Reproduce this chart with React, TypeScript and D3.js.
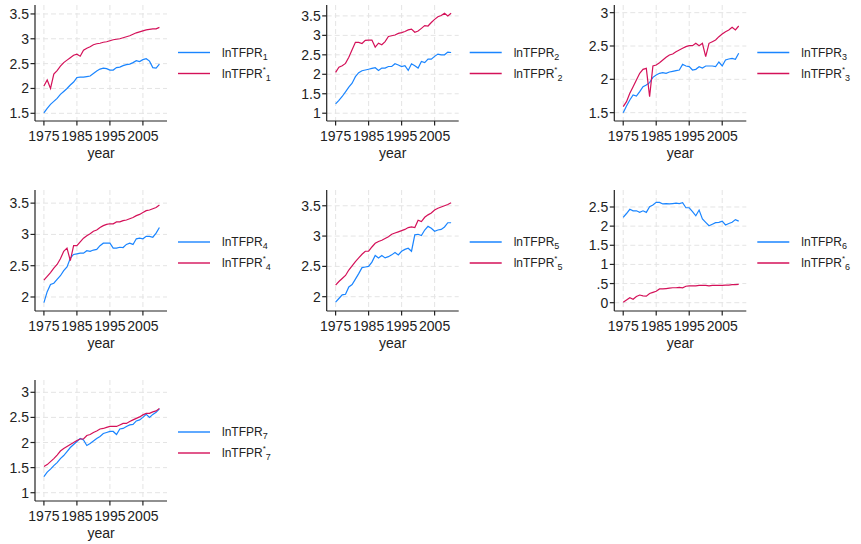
import React from "react";
import * as d3 from "d3";

const years: number[] = d3.range(1975, 2011);

const blue1 = [1.51,1.60,1.68,1.74,1.80,1.88,1.94,2.00,2.07,2.13,2.22,2.23,2.23,2.24,2.25,2.30,2.35,2.39,2.41,2.40,2.37,2.37,2.42,2.43,2.46,2.48,2.49,2.52,2.56,2.54,2.58,2.60,2.55,2.42,2.41,2.49];
const red1 = [2.05,2.17,2.00,2.29,2.36,2.45,2.52,2.57,2.62,2.67,2.69,2.65,2.77,2.81,2.84,2.88,2.90,2.91,2.93,2.94,2.96,2.98,2.99,3.00,3.02,3.04,3.06,3.09,3.12,3.14,3.16,3.18,3.19,3.20,3.20,3.23];

const blue2 = [1.24,1.33,1.43,1.55,1.67,1.77,1.94,2.04,2.09,2.11,2.13,2.15,2.17,2.10,2.16,2.16,2.20,2.20,2.27,2.24,2.20,2.22,2.10,2.27,2.22,2.16,2.33,2.30,2.39,2.39,2.46,2.52,2.50,2.50,2.57,2.56];
const red2 = [2.05,2.18,2.22,2.28,2.44,2.63,2.82,2.82,2.79,2.87,2.88,2.88,2.70,2.80,2.76,2.84,2.97,2.99,3.01,3.05,3.07,3.10,3.14,3.16,3.08,3.11,3.18,3.25,3.24,3.33,3.41,3.48,3.51,3.57,3.50,3.57];

const blue3 = [1.50,1.60,1.69,1.765,1.75,1.815,1.89,1.915,1.95,2.03,2.065,2.09,2.10,2.09,2.11,2.12,2.13,2.14,2.225,2.20,2.19,2.14,2.15,2.19,2.17,2.20,2.20,2.20,2.19,2.26,2.20,2.29,2.305,2.315,2.30,2.39];
const red3 = [1.59,1.665,1.79,1.89,1.99,2.09,2.15,2.165,1.74,2.20,2.215,2.25,2.29,2.33,2.365,2.38,2.415,2.44,2.465,2.49,2.505,2.505,2.54,2.505,2.54,2.34,2.54,2.565,2.59,2.64,2.68,2.715,2.74,2.78,2.74,2.80];

const blue4 = [1.91,2.085,2.20,2.22,2.28,2.34,2.42,2.48,2.62,2.68,2.69,2.70,2.70,2.74,2.73,2.75,2.76,2.82,2.86,2.86,2.86,2.78,2.78,2.795,2.79,2.84,2.86,2.84,2.93,2.94,2.93,2.97,2.97,2.955,3.02,3.11];
const red4 = [2.27,2.33,2.39,2.46,2.52,2.61,2.73,2.78,2.58,2.82,2.82,2.88,2.94,2.98,3.01,3.05,3.07,3.11,3.14,3.16,3.17,3.17,3.20,3.20,3.22,3.23,3.25,3.27,3.30,3.32,3.35,3.38,3.39,3.41,3.43,3.47];

const blue5 = [1.91,1.97,2.03,2.04,2.16,2.20,2.29,2.38,2.48,2.49,2.50,2.57,2.68,2.64,2.68,2.64,2.66,2.69,2.73,2.69,2.75,2.78,2.80,2.75,3.02,3.03,3.01,3.10,3.16,3.13,3.08,3.10,3.11,3.15,3.22,3.22];
const red5 = [2.19,2.25,2.30,2.35,2.44,2.51,2.58,2.64,2.70,2.75,2.75,2.82,2.88,2.91,2.93,2.96,2.99,3.03,3.05,3.07,3.09,3.11,3.14,3.15,3.14,3.26,3.24,3.31,3.35,3.38,3.43,3.46,3.48,3.50,3.52,3.55];

const blue6 = [2.23,2.33,2.44,2.40,2.40,2.36,2.40,2.36,2.51,2.55,2.62,2.62,2.58,2.59,2.58,2.59,2.60,2.59,2.61,2.48,2.48,2.38,2.27,2.42,2.19,2.10,2.01,2.05,2.09,2.10,2.13,2.03,2.07,2.10,2.17,2.13];
const red6 = [0.01,0.07,0.13,0.09,0.16,0.20,0.18,0.17,0.24,0.27,0.30,0.36,0.36,0.37,0.38,0.39,0.39,0.40,0.39,0.43,0.44,0.44,0.44,0.45,0.45,0.45,0.44,0.45,0.45,0.45,0.45,0.46,0.46,0.47,0.47,0.48];

const blue7 = [1.32,1.41,1.47,1.54,1.60,1.68,1.74,1.82,1.90,1.96,2.02,2.08,2.05,1.94,1.98,2.03,2.08,2.12,2.18,2.20,2.22,2.22,2.16,2.27,2.28,2.32,2.35,2.36,2.43,2.45,2.50,2.56,2.50,2.56,2.60,2.67];
const red7 = [1.52,1.56,1.62,1.68,1.75,1.83,1.88,1.92,1.96,2.00,2.04,2.07,2.07,2.14,2.16,2.20,2.23,2.27,2.28,2.30,2.32,2.32,2.32,2.35,2.38,2.38,2.42,2.45,2.48,2.51,2.55,2.58,2.58,2.61,2.63,2.68];

const xTicks = [1975, 1985, 1995, 2005];

const yTicks1 = [1.5, 2, 2.5, 3, 3.5];
const yTicks2 = [1, 1.5, 2, 2.5, 3, 3.5];
const yTicks3 = [1.5, 2, 2.5, 3];
const yTicks4 = [2, 2.5, 3, 3.5];
const yTicks5 = [2, 2.5, 3, 3.5];
const yTicks6 = [0, 0.5, 1, 1.5, 2, 2.5];
const yTicks7 = [1, 1.5, 2, 2.5, 3];

const BLUE = "#1a85ff";
const RED = "#d41159";

const colX = [35, 326.7, 614.3];
const rowTop = [5, 190, 380];
const rowBottom = [121, 311, 501];
const plotW = 132;
const xDomain: [number, number] = [1972.3, 2012.3];

const panels = [
  { id: 1, col: 0, row: 0, blue: blue1, red: red1, ticks: yTicks1, dom: [1.345, 3.68], leg: [52.5, 73.5] },
  { id: 2, col: 1, row: 0, blue: blue2, red: red2, ticks: yTicks2, dom: [0.8, 3.78], leg: [52.5, 73.5] },
  { id: 3, col: 2, row: 0, blue: blue3, red: red3, ticks: yTicks3, dom: [1.375, 3.115], leg: [52.5, 73.5] },
  { id: 4, col: 0, row: 1, blue: blue4, red: red4, ticks: yTicks4, dom: [1.776, 3.71], leg: [242, 263] },
  { id: 5, col: 1, row: 1, blue: blue5, red: red5, ticks: yTicks5, dom: [1.764, 3.76], leg: [242, 263] },
  { id: 6, col: 2, row: 1, blue: blue6, red: red6, ticks: yTicks6, dom: [-0.217, 2.944], leg: [242, 263] },
  { id: 7, col: 0, row: 2, blue: blue7, red: red7, ticks: yTicks7, dom: [0.835, 3.245], leg: [432, 453] },
];

const fmtY = (v: number) => {
  if (v === 0) return "0";
  const s = String(v);
  return s.startsWith("0.") ? s.slice(1) : s;
};

const FONT = "'Liberation Sans', Arial, Helvetica, sans-serif";

function Panel({ p }: { p: (typeof panels)[number] }) {
  const x0 = colX[p.col];
  const top = rowTop[p.row];
  const bottom = rowBottom[p.row];
  const x = d3.scaleLinear().domain(xDomain).range([x0, x0 + plotW]);
  const y = d3.scaleLinear().domain(p.dom).range([bottom, top]);
  const line = d3
    .line<number>()
    .x((_, i) => x(years[i]))
    .y((d) => y(d));
  const legX = x0 + 143;
  return (
    <g>
      {p.ticks.map((t) => (
        <line key={"gy" + t} x1={x0} x2={x0 + plotW} y1={y(t)} y2={y(t)} stroke="#e4e4e4" strokeDasharray="5,3" strokeWidth={1} />
      ))}
      {xTicks.map((t) => (
        <line key={"gx" + t} x1={x(t)} x2={x(t)} y1={top} y2={bottom} stroke="#e4e4e4" strokeDasharray="5,3" strokeWidth={1} />
      ))}
      <path d={line(p.blue) || ""} fill="none" stroke={BLUE} strokeWidth={1.2} />
      <path d={line(p.red) || ""} fill="none" stroke={RED} strokeWidth={1.2} />
      <line x1={x0} x2={x0} y1={top} y2={bottom} stroke="#222" strokeWidth={1.2} />
      <line x1={x0} x2={x0 + plotW} y1={bottom} y2={bottom} stroke="#222" strokeWidth={1.2} />
      {p.ticks.map((t) => (
        <g key={"ty" + t}>
          <line x1={x0 - 4.5} x2={x0} y1={y(t)} y2={y(t)} stroke="#222" strokeWidth={1.2} />
          <text x={x0 - 6} y={y(t) + 5} textAnchor="end" fontSize={14} fill="#222" fontFamily={FONT}>
            {fmtY(t)}
          </text>
        </g>
      ))}
      {xTicks.map((t) => (
        <g key={"tx" + t}>
          <line x1={x(t)} x2={x(t)} y1={bottom} y2={bottom + 4.5} stroke="#222" strokeWidth={1.2} />
          <text x={x(t)} y={bottom + 19.5} textAnchor="middle" fontSize={14} fill="#222" fontFamily={FONT}>
            {t}
          </text>
        </g>
      ))}
      <text x={x0 + plotW / 2} y={bottom + 36.5} textAnchor="middle" fontSize={14} fill="#222" fontFamily={FONT}>
        year
      </text>
      <line x1={legX} x2={legX + 32} y1={p.leg[0]} y2={p.leg[0]} stroke={BLUE} strokeWidth={1.4} />
      <line x1={legX} x2={legX + 32} y1={p.leg[1]} y2={p.leg[1]} stroke={RED} strokeWidth={1.4} />
      <text x={legX + 44} y={p.leg[0] + 4} fontSize={12} fill="#222" fontFamily={FONT}>
        lnTFPR
        <tspan fontSize={9} dy={3}>{p.id}</tspan>
      </text>
      <text x={legX + 44} y={p.leg[1] + 4} fontSize={12} fill="#222" fontFamily={FONT}>
        lnTFPR
        <tspan fontSize={8} dy={-6}>*</tspan>
        <tspan fontSize={9} dy={9}>{p.id}</tspan>
      </text>
    </g>
  );
}

export default function App() {
  return (
    <svg
      width={861}
      height={544}
      style={{ position: "absolute", left: 0, top: 0, background: "#fff" }}
    >
      <rect x={0} y={0} width={861} height={544} fill="#fff" />
      {panels.map((p) => (
        <Panel key={p.id} p={p} />
      ))}
    </svg>
  );
}
